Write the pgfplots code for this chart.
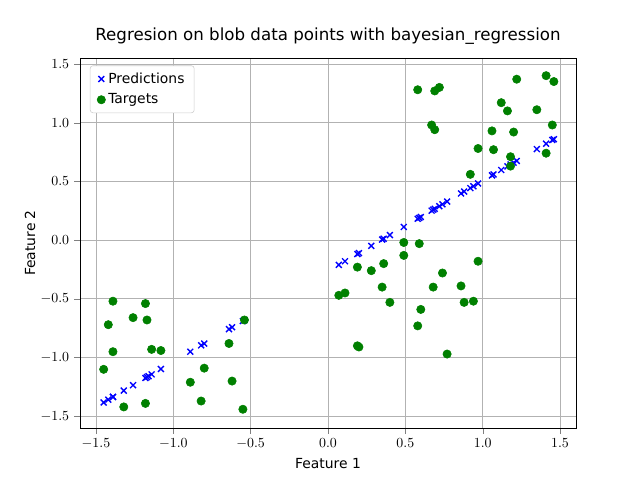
\documentclass[border=0pt]{standalone}
\usepackage{pgfplots}
\pgfplotsset{compat=1.18}
\usepackage{fontspec}
\setmainfont{DejaVu Sans}
\begin{document}
\begin{tikzpicture}
\path (0,0) rectangle (460.8pt,345.6pt);
\begin{axis}[at={(57.6pt,37.4pt)},anchor=south west,scale only axis,
width=357.1pt,height=266.4pt,
xmin=-1.603,xmax=1.603,ymin=-1.60,ymax=1.55,
xtick={-1.5,-1,-0.5,0,0.5,1,1.5},ytick={-1.5,-1,-0.5,0,0.5,1,1.5},
xticklabels={$-1.5$,$-1.0$,$-0.5$,$0.0$,$0.5$,$1.0$,$1.5$},
yticklabels={$-1.5$,$-1.0$,$-0.5$,$0.0$,$0.5$,$1.0$,$1.5$},
/pgf/number format/assume math mode=true,
tick label style={font=\fontsize{10}{12}\selectfont},
grid=major,grid style={gray!60,line width=0.6pt},
tick align=outside,xtick pos=bottom,ytick pos=left,
title={Regresion on blob data points with bayesian\_regression},
title style={font=\fontsize{12}{14}\selectfont},
xlabel={Feature 1},ylabel={Feature 2},
ylabel style={yshift=-3pt},
label style={font=\fontsize{10}{12}\selectfont},
legend style={font=\fontsize{10}{12}\selectfont,draw=gray!40,rounded corners=2pt,at={(0.02,0.98)},anchor=north west,
 row sep=2pt,inner xsep=5pt,inner ysep=3pt},
legend image post style={mark size=3pt},
legend cell align=left]
\addplot[only marks,mark=x,blue,mark size=3pt,line width=1pt] coordinates {
(-1.45,-1.382)(-1.42,-1.358)(-1.39,-1.335)(-1.39,-1.335)(-1.32,-1.281)(-1.26,-1.235)(-1.18,-1.174)(-1.17,-1.166)(-1.16,-1.158)(-1.14,-1.143)(-1.08,-1.097)(-0.89,-0.950)(-0.82,-0.896)(-0.80,-0.881)(-0.64,-0.758)(-0.62,-0.742)(-0.55,-0.689)(-0.54,-0.681)
(0.07,-0.211)(0.11,-0.180)(0.19,-0.119)(0.20,-0.111)(0.28,-0.049)(0.35,0.005)(0.36,0.012)(0.40,0.043)(0.49,0.112)(0.58,0.182)(0.59,0.189)(0.60,0.197)(0.68,0.259)(0.74,0.305)(0.77,0.328)(0.86,0.397)(0.88,0.413)(0.94,0.459)(0.97,0.482)(0.67,0.251)(0.69,0.266)(0.72,0.289)(0.92,0.443)(1.06,0.551)(1.07,0.559)(1.12,0.597)(1.16,0.628)(1.18,0.644)(1.20,0.659)(1.22,0.674)(1.35,0.775)(1.41,0.821)(1.45,0.852)(1.46,0.859)};
\addlegendentry{Predictions}
\addplot[only marks,mark=*,mark size=3pt,color={rgb,255:red,0;green,128;blue,0}] coordinates {
(-1.45,-1.10)(-1.42,-0.72)(-1.39,-0.52)(-1.39,-0.95)(-1.32,-1.42)(-1.26,-0.66)(-1.18,-0.54)(-1.17,-0.68)(-1.18,-1.39)(-1.14,-0.93)(-1.08,-0.94)(-0.89,-1.21)(-0.82,-1.37)(-0.80,-1.09)(-0.64,-0.88)(-0.62,-1.20)(-0.55,-1.44)(-0.54,-0.68)
(0.07,-0.47)(0.11,-0.45)(0.19,-0.90)(0.20,-0.91)(0.19,-0.23)(0.28,-0.26)(0.35,-0.40)(0.36,-0.20)(0.40,-0.53)(0.49,-0.02)(0.49,-0.13)(0.58,-0.73)(0.59,-0.03)(0.60,-0.59)(0.68,-0.40)(0.74,-0.28)(0.77,-0.97)(0.86,-0.39)(0.88,-0.53)(0.94,-0.52)(0.97,-0.18)
(0.58,1.28)(0.69,1.27)(0.72,1.30)(0.67,0.98)(0.69,0.94)(0.92,0.56)(0.97,0.78)(1.06,0.93)(1.07,0.77)(1.12,1.17)(1.16,1.10)(1.18,0.71)(1.18,0.63)(1.20,0.92)(1.22,1.37)(1.35,1.11)(1.41,1.40)(1.41,0.74)(1.45,0.98)(1.46,1.35)};
\addlegendentry{Targets}
\end{axis}
\end{tikzpicture}
\end{document}
